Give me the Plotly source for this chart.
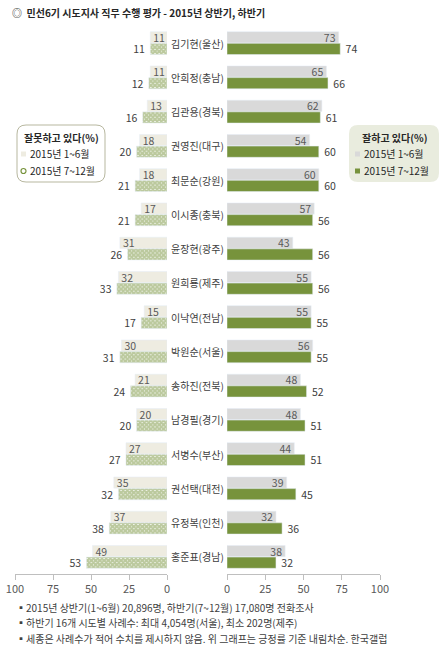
import plotly.graph_objects as go

# 광역단체장 직무 평가 (%)
names = ['김기현(울산)', '안희정(충남)', '김관용(경북)', '권영진(대구)', '최문순(강원)',
         '이시종(충북)', '윤장현(광주)', '원희룡(제주)', '이낙연(전남)', '박원순(서울)',
         '송하진(전북)', '남경필(경기)', '서병수(부산)', '권선택(대전)', '유정복(인천)',
         '홍준표(경남)']
bad_h1 = [11, 11, 13, 18, 18, 17, 31, 32, 15, 30, 21, 20, 27, 35, 37, 49]
bad_h2 = [11, 12, 16, 20, 21, 21, 26, 33, 17, 31, 24, 20, 27, 32, 38, 53]
good_h1 = [73, 65, 62, 54, 60, 57, 43, 55, 55, 56, 48, 48, 44, 39, 32, 38]
good_h2 = [74, 66, 61, 60, 60, 56, 56, 56, 55, 55, 52, 51, 51, 45, 36, 32]
ticks = [0, 25, 50, 75, 100]

title = '◎  <b>민선6기 시도지사 직무 수행 평가 - 2015년 상반기, 하반기</b>'
notes = [
    '▪2015년 상반기(1~6월) 20,896명, 하반기(7~12월) 17,080명 전화조사',
    '▪하반기 16개 시도별 사례수: 최대 4,054명(서울), 최소 202명(제주)',
    '▪세종은 사례수가 적어 수치를 제시하지 않음. 위 그래프는 긍정률 기준 내림차순. 한국갤럽',
]
legend_bad = '<b>잘못하고 있다(%)</b>'
legend_good = '<b>잘하고 있다(%)</b>'
periods = ['2015년 1~6월', '2015년 7~12월']

FONT = 'Noto Sans CJK KR, Malgun Gothic, sans-serif'
GREEN = '#77933c'
GRAY = '#d9d9d9'
BEIGE = '#eeece1'
TXT = '#595959'
DARK = '#404040'
W, H = 445, 652


def px(x):
    return x / W


def py(y):
    return 1 - y / H


def note(x, y, text, size=10, color=DARK, xanchor='center'):
    fig.add_annotation(x=px(x), y=py(y), xref='paper', yref='paper', text=text,
                       showarrow=False, xanchor=xanchor, yanchor='middle',
                       font=dict(size=size, color=color))


fig = go.Figure()

# 잘못하고 있다 (left, reversed axis)
fig.add_trace(go.Bar(
    y=names, x=bad_h1, orientation='h', name=periods[0],
    marker=dict(color=BEIGE), text=bad_h1, textposition='inside',
    insidetextanchor='end', textangle=0, constraintext='none',
    textfont=dict(size=10.5, color=TXT), xaxis='x', yaxis='y',
    showlegend=False, hoverinfo='skip'))
fig.add_trace(go.Bar(
    y=names, x=bad_h2, orientation='h', name=periods[1],
    marker=dict(color='white', pattern=dict(shape='x', size=3, solidity=0.9,
                                            fgcolor=GREEN, bgcolor='white')),
    texttemplate='%{x}\u00a0', textposition='outside', textangle=0,
    constraintext='none', cliponaxis=False, textfont=dict(size=10.5, color=DARK),
    xaxis='x', yaxis='y', showlegend=False, hoverinfo='skip'))

# 잘하고 있다 (right)
fig.add_trace(go.Bar(
    y=names, x=good_h1, orientation='h', name=periods[0],
    marker=dict(color=GRAY), text=good_h1, textposition='inside',
    insidetextanchor='end', textangle=0, constraintext='none',
    textfont=dict(size=10.5, color=TXT), xaxis='x2', yaxis='y',
    showlegend=False, hoverinfo='skip'))
fig.add_trace(go.Bar(
    y=names, x=good_h2, orientation='h', name=periods[1],
    marker=dict(color=GREEN), texttemplate='\u00a0%{x}', textposition='outside',
    textangle=0, constraintext='none', cliponaxis=False,
    textfont=dict(size=10.5, color=DARK),
    xaxis='x2', yaxis='y', showlegend=False, hoverinfo='skip'))

# 이름 라벨
for n in names:
    fig.add_annotation(x=px(197), y=n, xref='paper', yref='y', text=n,
                       showarrow=False, xanchor='center', yanchor='middle',
                       font=dict(size=10, color=DARK))

note(10, 12, title, color='#262626', xanchor='left')
for i, t in enumerate(notes):
    note(14, 607 + 15.5 * i, t, xanchor='left')


# 범례 박스
def rounded(x0, y0, x1, y1, r):
    rx, ry = r / W, r / H
    x0, x1, y0, y1 = px(x0), px(x1), py(y0), py(y1)
    return (f'M{x0 + rx},{y0} L{x1 - rx},{y0} Q{x1},{y0} {x1},{y0 - ry} '
            f'L{x1},{y1 + ry} Q{x1},{y1} {x1 - rx},{y1} L{x0 + rx},{y1} '
            f'Q{x0},{y1} {x0},{y1 + ry} L{x0},{y0 - ry} Q{x0},{y0} {x0 + rx},{y0} Z')


fig.add_shape(type='path', xref='paper', yref='paper',
              path=rounded(17, 125, 105, 182, 9),
              line=dict(color='#b7b79f', width=1), fillcolor='white', layer='below')
fig.add_shape(type='path', xref='paper', yref='paper',
              path=rounded(349, 125, 439, 182, 9),
              line=dict(width=0), fillcolor='#e9ecde', layer='below')

# 범례 내용
legends = [(61, 21, legend_bad, BEIGE, None), (394, 355, legend_good, GRAY, GREEN)]
for cx, sx, head, c1, c2 in legends:
    note(cx, 137, head, color='#262626')
    for lab, yy in zip(periods, [154, 171]):
        note(sx + 7, yy, lab, color='#262626', xanchor='left')
    fig.add_shape(type='rect', xref='paper', yref='paper',
                  x0=px(sx), x1=px(sx + 5), y0=py(151.5), y1=py(156.5),
                  line=dict(width=0), fillcolor=c1)
    if c2:
        fig.add_shape(type='rect', xref='paper', yref='paper',
                      x0=px(sx), x1=px(sx + 5), y0=py(168.5), y1=py(173.5),
                      line=dict(width=0), fillcolor=c2)
    else:
        fig.add_shape(type='circle', xref='paper', yref='paper',
                      x0=px(sx), x1=px(sx + 5), y0=py(168.5), y1=py(173.5),
                      line=dict(width=1.2, color=GREEN), fillcolor='white')

axis_common = dict(tickvals=ticks, ticks='outside', ticklen=5, tickcolor='#bfbfbf',
                   showline=True, linecolor='#bfbfbf', showgrid=False,
                   zeroline=False, tickfont=dict(size=11, color=TXT),
                   anchor='y', fixedrange=True)

fig.update_layout(
    width=W, height=H,
    margin=dict(l=0, r=0, t=0, b=0, autoexpand=False),
    paper_bgcolor='white', plot_bgcolor='rgba(0,0,0,0)',
    font=dict(family=FONT, size=11, color=TXT),
    barmode='group', bargap=0.32, bargroupgap=0.04,
    xaxis=dict(domain=[px(15), px(167)], range=[100, 0], **axis_common),
    xaxis2=dict(domain=[px(227), px(380)], range=[0, 100], **axis_common),
    yaxis=dict(domain=[1 - 574 / H, 1 - 26 / H], type='category',
               autorange='reversed', visible=False, fixedrange=True),
    showlegend=False,
)

# remove the default page margin so the figure sits at the window corner
fig.write_html('out.html', config=dict(displayModeBar=False),
               post_script="document.body.style.margin='0';")
